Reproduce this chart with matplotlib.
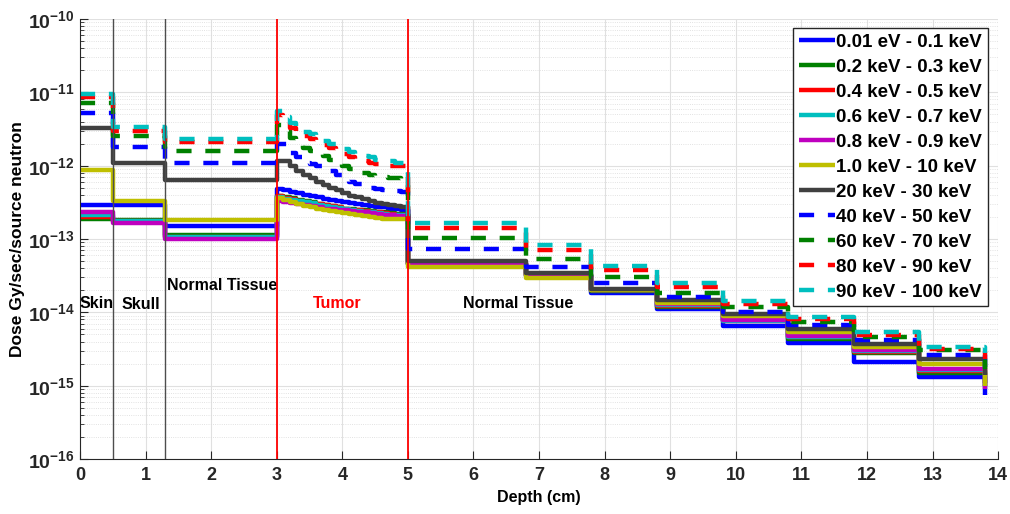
import matplotlib
matplotlib.use("Agg")
import matplotlib.pyplot as plt
from matplotlib.ticker import FixedLocator, LogLocator, FuncFormatter, NullFormatter
import numpy as np

plt.rcParams['font.family'] = ['Liberation Sans', 'DejaVu Sans']
plt.rcParams['font.weight'] = 'bold'
plt.rcParams['mathtext.fontset'] = 'custom'
plt.rcParams['mathtext.rm'] = 'Liberation Sans:bold'
plt.rcParams['mathtext.bf'] = 'Liberation Sans:bold'
plt.rcParams['mathtext.it'] = 'Liberation Sans:bold'

# Depth bin edges (cm): skin, skull, normal tissue, tumor (0.1 cm bins), normal tissue
edges = [0.0, 0.5, 1.3,
         3.0, 3.1, 3.2, 3.3, 3.4, 3.5, 3.6, 3.7, 3.8, 3.9,
         4.0, 4.1, 4.2, 4.3, 4.4, 4.5, 4.6, 4.7, 4.8, 4.9, 5.0,
         6.8, 7.8, 8.8, 9.8, 10.8, 11.8, 12.8, 13.8]

labels = ["0.01 eV - 0.1 keV", "0.2 keV - 0.3 keV", "0.4 keV - 0.5 keV",
          "0.6 keV - 0.7 keV", "0.8 keV - 0.9 keV", "1.0 keV - 10 keV",
          "20 keV - 30 keV", "40 keV - 50 keV", "60 keV - 70 keV",
          "80 keV - 90 keV", "90 keV - 100 keV"]

# values per bin (last entry = end point at 13.8 cm)
s_blue = ([2.9e-13, 2.9e-13, 1.5e-13]
          + [v * 1e-13 for v in [4.8, 4.6, 4.4, 4.2, 4.0, 3.85, 3.7, 3.55, 3.4, 3.3,
                                 3.2, 3.1, 3.0, 2.9, 2.8, 2.75, 2.7, 2.6, 2.55, 2.5]]
          + [4.5e-14, 3.1e-14, 1.85e-14, 1.1e-14, 6.5e-15, 3.8e-15, 2.1e-15, 1.3e-15, 7.5e-16])
s_green = ([1.9e-13, 1.8e-13, 1.12e-13]
           + [v * 1e-13 for v in [3.9, 3.75, 3.6, 3.45, 3.3, 3.15, 3.0, 2.9, 2.8, 2.7,
                                  2.6, 2.55, 2.5, 2.45, 2.4, 2.35, 2.3, 2.25, 2.2, 2.2]]
           + [4.6e-14, 3.2e-14, 1.95e-14, 1.2e-14, 7.8e-15, 4.3e-15, 2.8e-15, 1.5e-15, 1.0e-15])
s_red = ([2.0e-13, 1.75e-13, 1.07e-13]
         + [v * 1e-13 for v in [3.8, 3.65, 3.5, 3.35, 3.2, 3.1, 3.0, 2.9, 2.8, 2.7,
                                2.6, 2.5, 2.45, 2.4, 2.35, 2.3, 2.25, 2.2, 2.15, 2.15]]
         + [4.6e-14, 3.2e-14, 2.0e-14, 1.22e-14, 7.6e-15, 4.6e-15, 2.9e-15, 1.6e-15, 1.1e-15])
s_cyan = ([2.1e-13, 1.75e-13, 1.05e-13]
          + [v * 1e-13 for v in [3.7, 3.55, 3.4, 3.3, 3.15, 3.05, 2.95, 2.85, 2.75, 2.65,
                                 2.55, 2.5, 2.4, 2.35, 2.3, 2.25, 2.2, 2.15, 2.1, 2.1]]
          + [4.6e-14, 3.2e-14, 2.0e-14, 1.25e-14, 7.6e-15, 4.6e-15, 2.95e-15, 1.65e-15, 1.1e-15])
s_magenta = ([2.3e-13, 1.65e-13, 1.0e-13]
             + [v * 1e-13 for v in [3.3, 3.2, 3.1, 3.0, 2.9, 2.8, 2.7, 2.6, 2.55, 2.5,
                                    2.45, 2.4, 2.35, 2.3, 2.25, 2.2, 2.15, 2.1, 2.05, 2.05]]
             + [4.7e-14, 3.2e-14, 2.0e-14, 1.28e-14, 7.8e-15, 4.8e-15, 3.1e-15, 1.7e-15, 0.9e-15])
s_yellow = ([8.7e-13, 3.3e-13, 1.8e-13]
            + [v * 1e-13 for v in [3.6, 3.4, 3.2, 3.0, 2.85, 2.7, 2.6, 2.5, 2.4, 2.35,
                                   2.25, 2.2, 2.1, 2.05, 2.0, 1.95, 1.9, 1.9, 1.85, 1.85]]
            + [4.2e-14, 2.9e-14, 2.0e-14, 1.35e-14, 8.9e-15, 5.4e-15, 3.4e-15, 1.95e-15, 1.0e-15])
s_black = ([3.3e-12, 1.1e-12, 6.3e-13]
           + [v * 1e-12 for v in [1.17, 1.17, 0.98, 0.85, 0.75, 0.67, 0.6, 0.55, 0.5, 0.46,
                                  0.42, 0.39, 0.37, 0.35, 0.33, 0.31, 0.30, 0.29, 0.28, 0.27]]
           + [5.0e-14, 3.4e-14, 2.1e-14, 1.48e-14, 9.5e-15, 6.0e-15, 3.7e-15, 2.3e-15, 1.4e-15])
d_blue = ([5.3e-12, 1.8e-12, 1.1e-12]
          + [v * 1e-12 for v in [2.0, 2.0, 1.5, 1.3, 1.1, 1.05, 1.0, 0.9, 0.85, 0.75,
                                 0.65, 0.6, 0.56, 0.52, 0.5, 0.48, 0.47, 0.46, 0.45, 0.44]]
          + [7.2e-14, 4.1e-14, 2.5e-14, 1.6e-14, 1.0e-14, 6.7e-15, 4.2e-15, 2.6e-15, 1.8e-15])
d_green = ([7.2e-12, 2.5e-12, 1.6e-12]
           + [v * 1e-12 for v in [3.6, 3.0, 2.4, 2.1, 1.75, 1.6, 1.5, 1.35, 1.2, 1.1,
                                  1.0, 0.9, 0.85, 0.8, 0.75, 0.72, 0.7, 0.68, 0.67, 0.66]]
           + [1.02e-13, 5.3e-14, 3.0e-14, 1.85e-14, 1.2e-14, 7.4e-15, 4.6e-15, 3.1e-15, 1.7e-15])
d_red = ([8.7e-12, 3.0e-12, 2.1e-12]
         + [v * 1e-12 for v in [4.9, 4.0, 3.3, 2.9, 2.5, 2.3, 2.1, 1.9, 1.75, 1.6,
                                1.45, 1.3, 1.25, 1.15, 1.1, 1.05, 1.0, 1.0, 1.0, 0.98]]
         + [1.42e-13, 7.1e-14, 3.8e-14, 2.2e-14, 1.3e-14, 8.1e-15, 4.9e-15, 3.2e-15, 2.3e-15])
d_cyan = ([9.6e-12, 3.4e-12, 2.3e-12]
          + [v * 1e-12 for v in [5.5, 4.6, 3.8, 3.3, 2.9, 2.7, 2.5, 2.2, 2.0, 1.85,
                                 1.7, 1.55, 1.45, 1.35, 1.3, 1.2, 1.2, 1.15, 1.1, 1.1]]
          + [1.66e-13, 8.3e-14, 4.3e-14, 2.5e-14, 1.44e-14, 8.7e-15, 5.4e-15, 3.4e-15, 2.8e-15])

series = [s_blue, s_green, s_red, s_cyan, s_magenta, s_yellow, s_black,
          d_blue, d_green, d_red, d_cyan]
colors = [(0, 0, 1), (0, 0.5, 0), (1, 0, 0), (0, 0.75, 0.75), (0.75, 0, 0.75),
          (0.75, 0.75, 0), (0.25, 0.25, 0.25),
          (0, 0, 1), (0, 0.5, 0), (1, 0, 0), (0, 0.75, 0.75)]
dashed = [False] * 7 + [True] * 4

region_lines = [0.5, 1.3, 3.0, 5.0]
region_line_colors = [(0.3, 0.3, 0.3), (0.3, 0.3, 0.3), 'red', 'red']
region_texts = [("Skin", 0.0, 1.33e-14, 'black'),
                ("Skull", 0.63, 1.28e-14, 'black'),
                ("Normal Tissue", 1.33, 2.3e-14, 'black'),
                ("Tumor", 3.55, 1.33e-14, 'red'),
                ("Normal Tissue", 5.84, 1.33e-14, 'black')]

fig = plt.figure(figsize=(10.10, 5.14), dpi=100)
ax = fig.add_axes([0.0792, 0.107, 0.909, 0.856])
ax.set_yscale('log')

for vals, c, d, lab in zip(series, colors, dashed, labels):
    line, = ax.step(edges, vals, where='post', color=c, lw=3.2, label=lab,
                    solid_capstyle='butt', dash_capstyle='butt')
    if d:
        line.set_linestyle((0, (3.4, 3.1)))

for xv, c in zip(region_lines, region_line_colors):
    ax.axvline(xv, color=c, lw=1.3 if c == 'red' else 1.0, zorder=5)

for txt, xv, yv, c in region_texts:
    ax.text(xv, yv, txt, color=c, fontsize=11.5, fontweight='bold',
            ha='left', va='center')

ax.set_xlim(0, 14)
ax.set_ylim(1e-16, 1e-10)
ax.xaxis.set_major_locator(FixedLocator(list(range(0, 15))))
ax.yaxis.set_major_locator(FixedLocator([1e-16, 1e-15, 1e-14, 1e-13, 1e-12, 1e-11, 1e-10]))
ax.yaxis.set_minor_locator(LogLocator(base=10, subs=np.arange(2, 10), numticks=20))
ax.yaxis.set_minor_formatter(NullFormatter())

def yfmt(v, pos):
    e = int(round(np.log10(v)))
    return r'$\mathbf{10^{%d}}$' % e

ax.yaxis.set_major_formatter(FuncFormatter(yfmt))
ax.tick_params(axis='both', which='both', direction='in',
               colors=(0.15, 0.15, 0.15))
ax.tick_params(axis='x', labelsize=13, pad=6)
ax.tick_params(axis='y', labelsize=14, pad=4)
ax.tick_params(axis='both', which='major', length=6)
ax.tick_params(axis='y', which='minor', length=3)
for lab in ax.get_xticklabels():
    lab.set_fontweight('bold')

ax.grid(True, which='major', color=(0.88, 0.88, 0.88), lw=0.8)
ax.grid(True, which='minor', axis='y', color=(0.85, 0.85, 0.85), lw=0.6, ls=':')
ax.set_axisbelow(True)
for s in ['top', 'right']:
    ax.spines[s].set_visible(False)
for s in ['left', 'bottom']:
    ax.spines[s].set_color((0.15, 0.15, 0.15))

ax.set_xlabel("Depth (cm)", fontsize=11.5, fontweight='bold', labelpad=4)
ax.set_ylabel("Dose Gy/sec/source neutron", fontsize=12.5, fontweight='bold', labelpad=2)

leg = ax.legend(loc='upper right', bbox_to_anchor=(0.989, 0.98), borderaxespad=0,
                fontsize=13.5, handlelength=1.9, handletextpad=0.1,
                labelspacing=0.42, frameon=True, fancybox=False,
                borderpad=0.3)
leg.get_frame().set_edgecolor((0.15, 0.15, 0.15))
leg.get_frame().set_linewidth(1.0)
leg.get_frame().set_alpha(1.0)
leg.set_zorder(10)
for t in leg.get_texts():
    t.set_fontweight('bold')

fig.savefig("out.png", dpi=100)
